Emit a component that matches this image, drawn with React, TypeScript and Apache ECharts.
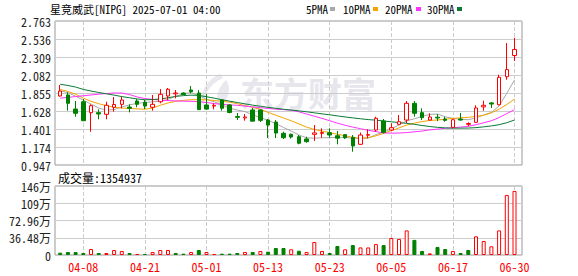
import React, { useEffect, useRef } from 'react';
import * as echarts from 'echarts';

const title = '星竞威武[NIPG] 2025-07-01 04:00';
const dates = ['04-03','04-04','04-07','04-08','04-09','04-10','04-11','04-14','04-15','04-16','04-17','04-21','04-22','04-23','04-24','04-25','04-28','04-29','04-30','05-01','05-02','05-05','05-06','05-07','05-08','05-09','05-12','05-13','05-14','05-15','05-16','05-19','05-20','05-21','05-22','05-23','05-27','05-28','05-29','05-30','06-02','06-03','06-04','06-05','06-06','06-09','06-10','06-11','06-12','06-13','06-16','06-17','06-18','06-20','06-23','06-24','06-25','06-26','06-27','06-30'];
const labeledDates = ['04-08','04-21','05-01','05-13','05-23','06-05','06-17','06-30'];

const opens = [1.817,1.830,1.653,1.745,1.607,1.607,1.586,1.675,1.712,1.678,1.754,1.738,1.675,1.745,1.817,1.845,1.855,1.893,1.855,1.704,1.690,1.767,1.704,1.559,1.540,1.641,1.641,1.514,1.489,1.347,1.334,1.304,1.275,1.334,1.346,1.354,1.316,1.330,1.296,1.208,1.322,1.388,1.502,1.388,1.460,1.514,1.725,1.607,1.514,1.550,1.527,1.422,1.527,1.460,1.485,1.680,1.730,1.707,2.060,2.328];
const closes = [1.880,1.725,1.599,1.506,1.695,1.590,1.700,1.710,1.767,1.662,1.712,1.691,1.712,1.838,1.902,1.855,1.835,1.872,1.645,1.652,1.700,1.662,1.609,1.548,1.552,1.500,1.510,1.451,1.350,1.291,1.300,1.221,1.241,1.352,1.356,1.325,1.285,1.290,1.187,1.325,1.330,1.536,1.359,1.417,1.493,1.725,1.599,1.544,1.552,1.540,1.510,1.518,1.514,1.470,1.666,1.700,1.716,2.053,2.150,2.404];
const lows = [1.810,1.632,1.556,1.500,1.367,1.523,1.523,1.619,1.662,1.611,1.675,1.653,1.632,1.725,1.767,1.788,1.830,1.851,1.640,1.641,1.649,1.632,1.600,1.515,1.506,1.496,1.489,1.287,1.287,1.275,1.280,1.208,1.228,1.250,1.291,1.291,1.208,1.275,1.115,1.200,1.284,1.367,1.344,1.380,1.451,1.473,1.556,1.514,1.510,1.502,1.493,1.410,1.506,1.435,1.480,1.632,1.666,1.700,2.023,2.258];
const highs = [1.956,1.864,1.754,1.779,1.712,1.649,1.745,1.804,1.808,1.712,1.779,1.767,1.830,1.905,1.918,1.893,1.862,1.943,1.893,1.842,1.725,1.775,1.715,1.603,1.590,1.666,1.650,1.527,1.514,1.367,1.345,1.325,1.304,1.451,1.410,1.410,1.376,1.335,1.325,1.357,1.397,1.556,1.527,1.473,1.577,1.754,1.754,1.662,1.599,1.590,1.556,1.525,1.603,1.485,1.700,1.758,1.741,2.086,2.485,2.552];

const volumes = [49000,63000,63000,42000,127000,42000,42000,106000,85000,42000,21000,21000,63000,106000,106000,42000,28000,63000,106000,63000,21000,28000,28000,42000,63000,63000,85000,70000,148000,148000,120000,90000,63000,275000,85000,42000,190000,120000,210000,160000,160000,230000,210000,360000,340000,520000,320000,85000,35000,170000,127000,85000,42000,106000,395000,296000,184000,520000,1270000,1354937];
const volumeUp = [0,0,0,0,1,0,1,1,1,0,1,0,1,1,1,0,0,1,0,1,1,0,0,0,1,0,1,0,0,0,1,0,1,1,1,0,0,1,0,1,1,1,0,1,1,1,0,0,1,0,0,1,0,0,1,1,1,1,1,1];

const ma5 = [1.880,1.860,1.815,1.765,1.715,1.665,1.640,1.645,1.680,1.705,1.725,1.735,1.745,1.750,1.775,1.815,1.845,1.860,1.825,1.775,1.745,1.705,1.665,1.640,1.620,1.580,1.545,1.510,1.470,1.420,1.375,1.325,1.290,1.285,1.290,1.292,1.295,1.295,1.285,1.280,1.285,1.330,1.360,1.405,1.450,1.505,1.530,1.560,1.585,1.590,1.555,1.535,1.525,1.518,1.540,1.578,1.610,1.690,1.852,2.020];
const ma10 = [1.900,1.875,1.840,1.790,1.750,1.720,1.695,1.675,1.665,1.660,1.655,1.650,1.665,1.700,1.730,1.750,1.762,1.770,1.772,1.768,1.760,1.750,1.740,1.720,1.695,1.675,1.650,1.610,1.575,1.540,1.505,1.465,1.425,1.395,1.375,1.355,1.335,1.315,1.295,1.285,1.292,1.315,1.345,1.380,1.415,1.450,1.475,1.495,1.508,1.515,1.525,1.535,1.542,1.548,1.560,1.575,1.605,1.650,1.710,1.778];
const ma20 = [1.790,1.800,1.810,1.820,1.830,1.840,1.848,1.855,1.855,1.835,1.805,1.785,1.775,1.765,1.760,1.755,1.752,1.750,1.745,1.735,1.722,1.712,1.705,1.700,1.690,1.680,1.670,1.660,1.652,1.645,1.638,1.618,1.590,1.562,1.535,1.505,1.475,1.448,1.425,1.405,1.385,1.368,1.352,1.348,1.350,1.356,1.365,1.375,1.390,1.400,1.410,1.418,1.425,1.435,1.455,1.480,1.505,1.545,1.595,1.645];
const ma30 = [1.965,1.950,1.930,1.900,1.880,1.862,1.845,1.828,1.810,1.795,1.780,1.770,1.772,1.780,1.795,1.812,1.822,1.828,1.825,1.808,1.790,1.770,1.752,1.735,1.718,1.702,1.688,1.674,1.662,1.650,1.640,1.630,1.618,1.605,1.592,1.580,1.566,1.553,1.541,1.530,1.520,1.512,1.502,1.492,1.482,1.472,1.460,1.445,1.432,1.422,1.415,1.412,1.412,1.413,1.418,1.428,1.440,1.455,1.480,1.515];

const priceTicks = [0.947, 1.174, 1.401, 1.628, 1.855, 2.082, 2.309, 2.536, 2.763];
const volumeTickLabels = ['0', '36.48万', '72.96万', '109万', '146万'];
const volumeMax = 1459200;
const maNames = ['5PMA', '10PMA', '20PMA', '30PMA'];
const maColors = ['#a8a8a8', '#f5a300', '#ff33ff', '#0a7a36'];
const maSeries = [ma5, ma10, ma20, ma30];

const FONT = "'Noto Sans Mono CJK SC', 'Noto Sans CJK SC', monospace";
const UP = '#ff0000';
const DOWN = '#008000';

// layout
const FRAME_L = 55;
const FRAME_W = 467;
const SLOT = 7.7;
const FIRST_X = 60.2;
const MAIN_TOP = 21;
const MAIN_H = 144;
const VOL_TOP = 186;
const VOL_H = 69;
const legendTextX = [306, 343, 385, 427];
const legendBoxX = [330, 373, 416, 457];

let logoRegistered = false;

export default function App() {
  const ref = useRef<HTMLDivElement>(null);
  useEffect(() => {
    if (!ref.current) return;
    if (!logoRegistered) {
      echarts.graphic.registerShape(
        'logo',
        echarts.graphic.extendPath(
          'M22 0 C8 6 0 20 6 33 C5 22 11 10 25 4 Z M28 6 C20 13 17 24 21 33 C31 26 34 14 28 6 Z',
          {}
        )
      );
      logoRegistered = true;
    }
    const chart = echarts.init(ref.current, undefined, { renderer: 'svg' });
    const isLabeled = (i: number) => labeledDates.includes(dates[i]);
    const plotW = SLOT * (dates.length - 1);
    const dashed = { show: true, interval: isLabeled, lineStyle: { type: 'dashed', color: '#cccccc', width: 1 } };

    const graphic: any[] = [
      {
        type: 'logo', x: 198, y: 74, scaleX: 1, scaleY: 1, z: -10,
        style: { fill: '#e8e8ee' },
      },
      {
        type: 'text', x: 240, y: 92, z: -10,
        style: { text: '东方财富', fill: '#e6e6ec', font: "bold 34px 'Noto Sans CJK SC'", verticalAlign: 'middle', align: 'left' },
      },
      {
        type: 'text', x: 50, y: 9,
        style: { text: title, fill: '#000', font: `11px ${FONT}`, verticalAlign: 'middle', align: 'left' },
      },
      {
        type: 'text', x: 58, y: 177,
        style: { text: '成交量:' + volumes[volumes.length - 1], fill: '#000', font: `12px ${FONT}`, verticalAlign: 'middle', align: 'left' },
      },
    ];
    maNames.forEach((n, i) => {
      graphic.push({
        type: 'text', x: legendTextX[i], y: 9,
        style: { text: n, fill: '#000', font: `11px ${FONT}`, verticalAlign: 'middle', align: 'left' },
      });
      graphic.push({
        type: 'rect', shape: { x: legendBoxX[i], y: 7, width: 5, height: 4 },
        style: { fill: maColors[i] },
      });
    });

    const option: any = {
      animation: false,
      backgroundColor: '#fff',
      graphic,
      grid: [
        { left: FRAME_L, top: MAIN_TOP, width: FRAME_W, height: MAIN_H, show: true, borderColor: '#999', borderWidth: 1, backgroundColor: 'transparent' },
        { left: FIRST_X, top: MAIN_TOP, width: plotW, height: MAIN_H },
        { left: FRAME_L, top: VOL_TOP, width: FRAME_W, height: VOL_H, show: true, borderColor: '#999', borderWidth: 1, backgroundColor: 'transparent' },
        { left: FIRST_X, top: VOL_TOP, width: plotW, height: VOL_H },
      ],
      xAxis: [
        { gridIndex: 0, type: 'value', min: 0, max: 1, show: false },
        {
          gridIndex: 1, type: 'category', data: dates, boundaryGap: false,
          axisLine: { show: false }, axisTick: { show: false }, axisLabel: { show: false },
          splitLine: dashed,
        },
        { gridIndex: 2, type: 'value', min: 0, max: 1, show: false },
        {
          gridIndex: 3, type: 'category', data: dates, boundaryGap: false,
          axisLine: { show: false }, axisTick: { show: false },
          axisLabel: { show: true, interval: isLabeled, color: UP, fontSize: 12, fontFamily: FONT, margin: 5 },
          splitLine: dashed,
        },
      ],
      yAxis: [
        {
          gridIndex: 0, type: 'value', min: 0, max: priceTicks.length - 1, interval: 1,
          axisLine: { show: false }, axisTick: { show: false },
          axisLabel: { formatter: (v: number) => priceTicks[v].toFixed(3), color: '#222', fontSize: 12, fontFamily: FONT, margin: 4 },
          splitLine: { show: true, lineStyle: { color: '#cccccc', width: 1 } },
        },
        { gridIndex: 1, type: 'value', min: priceTicks[0], max: priceTicks[priceTicks.length - 1], show: false },
        {
          gridIndex: 2, type: 'value', min: 0, max: volumeTickLabels.length - 1, interval: 1,
          axisLine: { show: false }, axisTick: { show: false },
          axisLabel: { formatter: (v: number) => volumeTickLabels[v], color: '#222', fontSize: 12, fontFamily: FONT, margin: 4 },
          splitLine: { show: true, lineStyle: { color: '#cccccc', width: 1 } },
        },
        { gridIndex: 3, type: 'value', min: 0, max: volumeMax, show: false },
      ],
      series: [
        ...maSeries.map((d, i) => ({
          type: 'line', name: maNames[i], xAxisIndex: 1, yAxisIndex: 1, data: d,
          symbol: 'none', showSymbol: false, smooth: false, z: 3,
          lineStyle: { width: 1, color: maColors[i] },
        })),
        {
          type: 'candlestick', xAxisIndex: 1, yAxisIndex: 1, barWidth: 4, clip: false, z: 5,
          data: dates.map((_, i) => [opens[i], closes[i], lows[i], highs[i]]),
          itemStyle: { color: '#ffffff', color0: DOWN, borderColor: UP, borderColor0: DOWN, borderWidth: 1 },
        },
        {
          type: 'bar', xAxisIndex: 3, yAxisIndex: 3, barWidth: 4, clip: false, z: 5,
          data: volumes.map((v, i) => ({
            value: v,
            itemStyle: volumeUp[i]
              ? { color: '#ffffff', borderColor: UP, borderWidth: 1 }
              : { color: DOWN, borderColor: DOWN, borderWidth: 1 },
          })),
        },
      ],
    };
    chart.setOption(option);
    return () => chart.dispose();
  }, []);
  return <div ref={ref} style={{ position: 'absolute', left: 0, top: 0, width: 578, height: 276 }} />;
}
